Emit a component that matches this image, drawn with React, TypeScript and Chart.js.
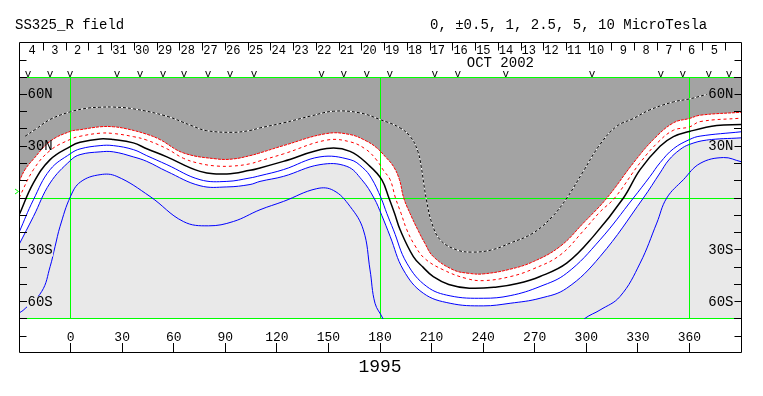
import { useEffect, useRef } from 'react';
import { Chart, registerables } from 'chart.js';

Chart.register(...registerables);

// ---- data (Carrington longitude, latitude) ----
const dottedLon = [-26.5, -20, -12, 0, 10, 17, 25, 36.5, 56, 70, 79, 94.5, 104, 110, 124, 140, 153, 168, 180, 191.6, 198, 202, 204, 205.5, 207, 210, 215, 224.6, 234, 245, 255.7, 269, 280, 288.7, 298, 308, 317.7, 327.4, 337, 350.7, 360.4, 370];
const dottedLat = [35.7, 40, 45.4, 49.9, 52, 52.5, 52.6, 51.6, 47.3, 42, 39, 38, 39, 40.5, 43.5, 47.5, 50.2, 49.3, 45.4, 40.6, 35, 27, 18, 8, -1, -14, -24.2, -30, -31.3, -30, -26.1, -20.3, -11, 0, 15, 31, 41.5, 46, 51, 55.6, 57.4, 59.9];

const red1Lon = [-30, -26.5, -21.6, -11.9, 0, 5.5, 17.2, 25, 32.7, 44, 52, 65.6, 85, 94.7, 104.4, 110.2, 123.8, 149, 162.6, 172, 178.1, 183, 187.8, 191.3, 193.8, 197.5, 202, 206, 211, 222.7, 232, 240.1, 255.7, 269.2, 284.8, 298.3, 312, 327.4, 339, 350.7, 360, 366.2, 390];
const red1Lat = [9.5, 16.4, 22.5, 32.8, 38.6, 39.5, 41.2, 41.2, 40, 37, 33.8, 26.1, 22.6, 22.6, 24.5, 26.1, 30.3, 37.3, 36.7, 33, 29, 24, 18.3, 10.6, 0, -9, -18.4, -26, -33.9, -41.6, -43.6, -43.9, -41.2, -36.8, -28, -14.5, 0, 20.3, 33.8, 43.5, 46, 47.9, 49.6];

const red2Lon = [-30, -21.6, -11.9, 0, 5.5, 17.2, 25, 36.5, 44.3, 56, 65.6, 75, 85, 94.7, 104.4, 110.2, 123.8, 149, 162.6, 172, 178, 182, 185.9, 189, 192.3, 195.6, 200, 206, 216.9, 230, 240.1, 255.7, 269.2, 284.8, 298.3, 308, 316.5, 331, 341.5, 350.7, 360, 366.2, 390];
const red2Lat = [0, 16.4, 27.5, 34, 35.7, 37.5, 37.3, 35.5, 33.5, 28.5, 23, 20, 18.5, 18.5, 19.8, 21.5, 25.5, 33.5, 32.5, 28, 22, 16, 10.6, 0, -9, -18.4, -27, -35, -41.6, -46.5, -47.8, -45.5, -41, -33, -19, -8, 0, 20, 32, 39.2, 41.1, 44.2, 46.2];

const neutralLon = [-30, -21.6, -11.9, 0, 5.5, 17.2, 24.9, 36.5, 44.3, 56, 75.3, 90.9, 104.4, 110.2, 123.8, 149, 162.6, 174.2, 181, 185.2, 188.5, 191.7, 199.4, 205, 211, 220, 232, 248, 260, 273.1, 288.6, 304.1, 321.6, 331.3, 342.9, 350.7, 360, 375.9, 390];
const neutralLat = [-10, 8.7, 22.2, 29.9, 32.2, 34.2, 33.8, 31.9, 28.5, 23.8, 15.4, 13.9, 16, 17.4, 21.2, 28.6, 27, 18.3, 10.6, 0, -9, -18.4, -33.9, -40, -45.5, -50, -52.2, -51.5, -49.5, -45.4, -37.7, -22.2, 0, 16.4, 29.9, 35.5, 38.5, 41.9, 42.5];

const blue1Lon = [-30, -21.6, -11.9, 0, 5.5, 17.2, 24.9, 36.5, 44.3, 56, 75.3, 90.9, 104.4, 110.2, 123.8, 145.1, 162.6, 170, 175, 180.6, 184, 187.8, 195.6, 207.2, 220.8, 240.1, 255.7, 273.1, 288.6, 308, 327.4, 337.1, 343, 350.7, 360, 366.2, 390];
const blue1Lat = [-20, -1, 16.4, 25.7, 28.4, 30.3, 30.3, 28, 24.5, 19.3, 10.6, 9.6, 11.6, 12.9, 16.4, 23.8, 22.2, 17.5, 11.5, 0, -9, -18.4, -37.7, -51.2, -56.6, -58, -56.5, -51.2, -43.5, -24.2, 0, 12.5, 20.5, 28.5, 33.8, 35.8, 38.3];

const blue2Lon = [-30, -21.6, -11.9, 0, 5.5, 17.2, 24.9, 36.5, 44.3, 56, 75.3, 90.9, 104.4, 110.2, 123.8, 145.1, 160.7, 169.4, 176.5, 181, 185.9, 193.6, 205.2, 220.8, 240.1, 255.7, 273.1, 288.6, 308, 333.2, 342.9, 348, 354.5, 360, 370, 390];
const blue2Lat = [-27, -10.7, 8.7, 21.8, 25.1, 26.7, 26.7, 23.8, 21.2, 15.4, 7.1, 6.4, 7.8, 9.6, 12.5, 19.3, 18.3, 10.6, 0, -10, -22.2, -41.6, -55.1, -60.9, -62.4, -60.9, -58, -52.2, -33.9, 0, 14.5, 22, 28, 31, 33.5, 34.8];

const blue3Lon = [-30, -27.6, -16.8, -11.9, -9, -6.1, 0, 5.8, 17.2, 26.9, 46.2, 65.6, 80.2, 94.7, 110.2, 123.8, 143.2, 152.9, 162.6, 170.3, 174.2, 177.1, 181.6, 183, 240, 297, 299.3, 308, 319.6, 331.3, 341, 346.8, 356.5, 366.2, 379.8, 390];
const blue3Lat = [-66.5, -65, -54.1, -39.7, -28, -16.4, 1, 9.3, 13.5, 12.5, 0.9, -13.6, -16.1, -13.6, -6.8, -2, 5.4, 4.4, -4.9, -18.4, -41.6, -60.9, -69.6, -74, null, -73, -69.6, -64.8, -57, -37.7, -14.5, 0, 10.6, 20, 23.4, 21];

const xTickValues = [0, 30, 60, 90, 120, 150, 180, 210, 240, 270, 300, 330, 360];
const latTicks = [-70, -60, -50, -40, -30, -20, -10, 0, 10, 20, 30, 40, 50, 60, 70];
const latLabels = [
  { lat: 60, text: '60N' },
  { lat: 30, text: '30N' },
  { lat: -30, text: '30S' },
  { lat: -60, text: '60S' },
];
const dayLabels = ['4', '3', '2', '1', '31', '30', '29', '28', '27', '26', '25', '24', '23', '22', '21', '20', '19', '18', '17', '16', '15', '14', '13', '12', '11', '10', '9', '8', '7', '6', '5'];
const dayStartLon = -15.8;
const dayStepLon = 13.23;
const obsLon = [-24.7, -11.9, -0.3, 27, 40.4, 53.8, 66, 80, 92.8, 106.7, 146, 158.9, 172.3, 185.7, 211.9, 225.3, 253.2, 303.3, 343.4, 356.2, 371.3, 383];
const greenLon = [0, 180, 360];
const earthLat = 3.8;

const TITLE = 'SS325_R field';
const LEVELS = '0, \u00b10.5, 1, 2.5, 5, 10 MicroTesla';
const MONTH = 'OCT 2002';
const ROTATION = '1995';

const FONT = '"Liberation Mono", "DejaVu Sans Mono", monospace';
const DARK = '#a3a3a3';
const LIGHT = '#e9e9e9';
const GREEN = '#00ff00';

const pts = (lon: number[], lat: (number | null)[]) => lon.map((x, i) => ({ x, y: lat[i] }));

const decor = {
  id: 'decor',
  beforeDraw(chart: any) {
    const { ctx, chartArea: a } = chart;
    ctx.save();
    ctx.fillStyle = '#ffffff';
    ctx.fillRect(0, 0, chart.width, chart.height);
    ctx.fillStyle = LIGHT;
    ctx.fillRect(a.left, a.top, a.right - a.left, a.bottom - a.top);
    ctx.restore();
  },
  beforeDatasetsDraw(chart: any) {
    const { ctx, chartArea: a, scales } = chart;
    const x = scales.x, y = scales.y;
    ctx.save();
    ctx.strokeStyle = GREEN;
    ctx.lineWidth = 1;
    ctx.beginPath();
    for (const lon of greenLon) {
      const px = Math.floor(x.getPixelForValue(lon)) + 0.5;
      ctx.moveTo(px, a.top);
      ctx.lineTo(px, a.bottom);
    }
    const y0 = Math.floor(y.getPixelForValue(0)) + 0.5;
    ctx.moveTo(a.left, y0); ctx.lineTo(a.right, y0);
    ctx.moveTo(a.left, a.top + 0.5); ctx.lineTo(a.right, a.top + 0.5);
    ctx.moveTo(a.left, a.bottom - 0.5); ctx.lineTo(a.right, a.bottom - 0.5);
    ctx.stroke();
    ctx.restore();
  },
  afterDraw(chart: any) {
    const { ctx, chartArea: a, scales } = chart;
    const x = scales.x, y = scales.y;
    const L = a.left + 0.5, R = a.right + 0.5;
    const T = a.top - 34.5, B = a.bottom + 33.5;
    ctx.save();
    ctx.strokeStyle = '#000';
    ctx.lineWidth = 1;

    // frame
    ctx.beginPath();
    ctx.moveTo(L, T); ctx.lineTo(R, T);
    ctx.moveTo(L, T); ctx.lineTo(L, B);
    ctx.moveTo(R, T); ctx.lineTo(R, B);
    ctx.moveTo(L, B); ctx.lineTo(R, B);
    // side ticks in header & footer
    const hy = a.top - 16.5, fy = a.bottom + 17.5;
    ctx.moveTo(L, hy); ctx.lineTo(L + 7, hy);
    ctx.moveTo(R - 7, hy); ctx.lineTo(R, hy);
    ctx.moveTo(L, fy); ctx.lineTo(L + 7, fy);
    ctx.moveTo(R - 7, fy); ctx.lineTo(R, fy);
    // latitude ticks
    for (const lat of latTicks) {
      let py = Math.floor(y.getPixelForValue(lat)) + 0.5;
      py = Math.min(Math.max(py, a.top + 0.5), a.bottom - 0.5);
      ctx.moveTo(L, py); ctx.lineTo(L + 7.5, py);
      ctx.moveTo(R - 7.5, py); ctx.lineTo(R, py);
    }
    // longitude ticks (bottom)
    for (const lon of xTickValues) {
      const px = Math.floor(x.getPixelForValue(lon)) + 0.5;
      ctx.moveTo(px, a.bottom + 24); ctx.lineTo(px, B);
    }
    // day ticks (header)
    for (let k = 0; k < dayLabels.length; k++) {
      const px = Math.floor(x.getPixelForValue(dayStartLon + k * dayStepLon)) + 0.5;
      ctx.moveTo(px, T); ctx.lineTo(px, T + 8);
    }
    ctx.stroke();

    ctx.fillStyle = '#000';
    // title row
    ctx.font = `14px ${FONT}`;
    ctx.textBaseline = 'alphabetic';
    ctx.textAlign = 'left';
    ctx.fillText(TITLE, 15, 29);
    ctx.fillText(LEVELS, 430, 29);

    // day labels
    ctx.font = `12px ${FONT}`;
    ctx.textAlign = 'right';
    dayLabels.forEach((d, i) => {
      const left = x.getPixelForValue(dayStartLon + (i - 1) * dayStepLon);
      ctx.fillText(d, left + 15, T + 11.5);
    });

    // month
    ctx.font = `14px ${FONT}`;
    ctx.textAlign = 'center';
    ctx.fillText(MONTH, x.getPixelForValue(250), a.top - 10);

    // observation marks
    ctx.font = `11px ${FONT}`;
    for (const lon of obsLon) {
      ctx.fillText('v', x.getPixelForValue(lon), a.top - 0.5);
    }

    // bottom labels
    ctx.font = `13px ${FONT}`;
    ctx.textBaseline = 'middle';
    for (const lon of xTickValues) {
      ctx.fillText(String(lon), x.getPixelForValue(lon), a.bottom + 18.5);
    }
    ctx.font = `18px ${FONT}`;
    ctx.fillText(ROTATION, x.getPixelForValue(180), a.bottom + 48.5);

    // latitude labels inside the plot
    ctx.font = `14px ${FONT}`;
    const leftBg = [DARK, null, LIGHT, LIGHT];
    const rightBg = [DARK, LIGHT, LIGHT, LIGHT];
    latLabels.forEach((lb, i) => {
      const py = y.getPixelForValue(lb.lat) + 0.5;
      const w = ctx.measureText(lb.text).width;
      if (leftBg[i]) { ctx.fillStyle = leftBg[i]; ctx.fillRect(L + 7.5, py - 6, w + 1, 12); }
      if (rightBg[i]) { ctx.fillStyle = rightBg[i]; ctx.fillRect(R - 8 - w, py - 6, w + 1, 12); }
      ctx.fillStyle = '#000';
      ctx.textAlign = 'left';
      ctx.fillText(lb.text, L + 8, py);
      ctx.textAlign = 'right';
      ctx.fillText(lb.text, R - 8, py);
    });

    // sub-earth latitude marker
    const ey = Math.floor(y.getPixelForValue(earthLat)) + 0.5;
    ctx.strokeStyle = GREEN;
    ctx.beginPath();
    ctx.moveTo(L - 4.5, ey - 2.5); ctx.lineTo(L - 1, ey); ctx.lineTo(L - 4.5, ey + 2.5);
    ctx.stroke();
    ctx.restore();
  },
};

export default function App() {
  const ref = useRef<HTMLCanvasElement>(null);
  useEffect(() => {
    document.body.style.margin = '0';
    const base = { pointRadius: 0, borderWidth: 1, fill: false, tension: 0.4, spanGaps: false };
    const chart = new Chart(ref.current as HTMLCanvasElement, {
      type: 'line',
      data: {
        datasets: [
          { ...base, label: '+0.5', data: pts(red1Lon, red1Lat), borderColor: '#ff0000', borderDash: [3, 1], fill: 'end', backgroundColor: DARK },
          { ...base, label: '-1', data: pts(blue2Lon, blue2Lat), borderColor: '#0000ff', fill: 'end', backgroundColor: '#ffffff' },
          { ...base, label: '+2.5', data: pts(dottedLon, dottedLat), borderColor: '#000000', borderDash: [3, 2] },
          { ...base, label: '+2.5 base', data: pts(dottedLon, dottedLat), borderColor: '#ffffff' },
          { ...base, label: '+1', data: pts(red2Lon, red2Lat), borderColor: '#ff0000', borderDash: [3, 3] },
          { ...base, label: '0', data: pts(neutralLon, neutralLat), borderColor: '#000000', borderWidth: 1.5 },
          { ...base, label: '-0.5', data: pts(blue1Lon, blue1Lat), borderColor: '#0000ff' },
          { ...base, label: '-2.5', data: pts(blue3Lon, blue3Lat), borderColor: '#0000ff' },
        ],
      },
      options: {
        responsive: false,
        animation: false,
        devicePixelRatio: 1,
        layout: { padding: { left: 19, right: 22, top: 77, bottom: 77 } },
        scales: {
          x: { type: 'linear', min: -30, max: 390, display: false },
          y: { type: 'linear', min: -70, max: 70, display: false },
        },
        plugins: {
          legend: { display: false },
          tooltip: { enabled: false },
          filler: { propagate: false, drawTime: 'beforeDatasetsDraw' },
        },
        events: [],
      } as any,
      plugins: [decor],
    });
    return () => chart.destroy();
  }, []);
  return (
    <div style={{ position: 'absolute', left: 0, top: 0, width: 763, height: 396 }}>
      <canvas ref={ref} width={763} height={396} style={{ display: 'block', width: 763, height: 396 }} />
    </div>
  );
}
